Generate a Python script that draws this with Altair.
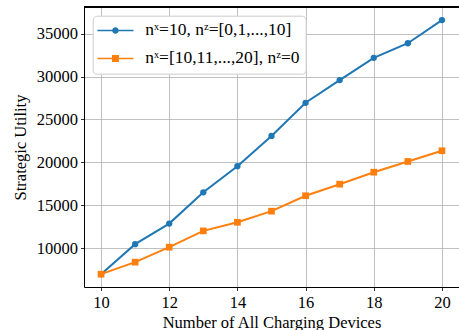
import altair as alt
import pandas as pd

devices = [10, 11, 12, 13, 14, 15, 16, 17, 18, 19, 20]
series_a = [6950, 10450, 12850, 16500, 19550, 23080, 26950, 29600, 32200, 33900, 36600]
series_b = [6950, 8350, 10100, 12000, 13000, 14300, 16100, 17450, 18850, 20100, 21350]
label_a = "nˣ=10, nᶻ=[0,1,...,10]"
label_b = "nˣ=[10,11,...,20], nᶻ=0\u00a0\u00a0\u00a0"
labels = [label_a, label_b]
colors = ["#1f77b4", "#ff7f0e"]
x_ticks = [10, 12, 14, 16, 18, 20]
y_ticks = [10000, 15000, 20000, 25000, 30000, 35000]

rows = []
for d, v in zip(devices, series_a):
    rows.append({"devices": d, "utility": v, "series": label_a})
for d, v in zip(devices, series_b):
    rows.append({"devices": d, "utility": v, "series": label_b})
df = pd.DataFrame(rows)

FONT = "Liberation Serif"
xscale = alt.Scale(domain=[9.5, 20.5], nice=False, zero=False)
yscale = alt.Scale(domain=[5450, 38130], nice=False, zero=False)
cscale = alt.Scale(domain=labels, range=colors)

# legend symbols: line segment + marker (custom paths)
sym_circle = "M-6,-0.25 H6 V0.25 H-6 Z M1.1,0 A1.1,1.1 0 1,1 -1.1,0 A1.1,1.1 0 1,1 1.1,0 Z"
sym_square = "M-6,-0.25 H6 V0.25 H-6 Z M-1.15,-1.15 H1.15 V1.15 H-1.15 Z"

x_enc = alt.X("devices:Q", scale=xscale,
              axis=alt.Axis(title="Number of All Charging Devices", values=x_ticks,
                            format="d", grid=True, titlePadding=3, labelPadding=4))
y_enc = alt.Y("utility:Q", scale=yscale,
              axis=alt.Axis(title="Strategic Utility", values=y_ticks, format="d",
                            grid=True, titlePadding=8))

base_a = alt.Chart(df).transform_filter(alt.datum.series == label_a)
base_b = alt.Chart(df).transform_filter(alt.datum.series == label_b)

line_a = base_a.mark_line(strokeWidth=2, color=colors[0]).encode(x=x_enc, y=y_enc)
pts_a = base_a.mark_point(filled=True, shape="circle", size=40, opacity=1,
                          color=colors[0]).encode(x="devices:Q", y="utility:Q")
line_b = base_b.mark_line(strokeWidth=2, color=colors[1]).encode(x="devices:Q", y="utility:Q")
pts_b = base_b.mark_point(filled=True, shape="square", size=45, opacity=1,
                          color=colors[1]).encode(x="devices:Q", y="utility:Q")

# legend-only layer: its points sit far outside the fixed y domain and are clipped
legend_layer = alt.Chart(df).transform_calculate(
    offscale="datum.utility - 1000000"
).mark_point(filled=True, opacity=1, clip=True).encode(
    x="devices:Q", y="offscale:Q",
    color=alt.Color("series:N", scale=cscale, legend=alt.Legend(
        title=None, orient="none", legendX=8.7, legendY=8.7,
        labelFont=FONT, labelFontSize=17.5, labelColor="black",
        symbolSize=36, symbolOpacity=1, symbolStrokeWidth=0,
        symbolOffset=8, labelOffset=21, rowPadding=9, padding=6,
        fillColor="white", strokeColor="#cccccc", cornerRadius=4,
        labelLimit=400,
    )),
    shape=alt.Shape("series:N", scale=alt.Scale(domain=labels, range=[sym_circle, sym_square]),
                    legend=alt.Legend(title=None, orient="none", legendX=8.7, legendY=8.7)),
)

top_border = alt.Chart(df).mark_rule(color="black", strokeWidth=1).encode(
    x=alt.value(0), x2=alt.value(375), y=alt.value(0)
)

chart = alt.layer(line_a, line_b, pts_a, pts_b, legend_layer, top_border).properties(
    width=375, height=280,
    autosize=alt.AutoSizeParams(type="none"),
    padding={"left": 84, "top": 7, "right": 0, "bottom": 43},
    background="white",
).configure_view(stroke=None).configure_axis(
    labelFont=FONT, labelFontSize=16.5, labelColor="black",
    titleFont=FONT, titleFontSize=16.5, titleFontWeight="normal", titleColor="black",
    tickColor="black", tickSize=3.5, tickWidth=0.8, domainColor="black", domainWidth=1,
    gridColor="#b0b0b0", gridWidth=0.8, labelPadding=3,
)

chart.save("out.html", embed_options={"renderer": "svg", "actions": False})
